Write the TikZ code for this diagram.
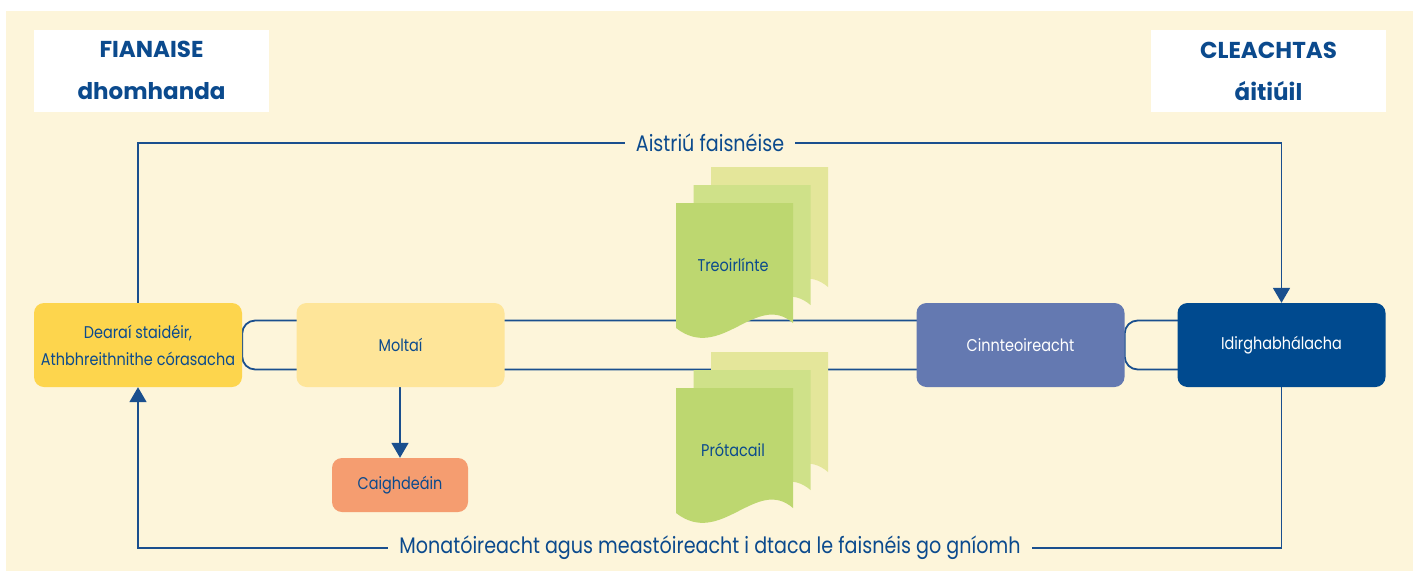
\documentclass[tikz,border=0pt]{standalone}
\usepackage{fontspec}
\setmainfont{Poppins}[FakeStretch=0.85]
\newfontfamily\hdrfont{Poppins}
\usetikzlibrary{arrows.meta,calc}
\definecolor{bg}{HTML}{FDF5DA}
\definecolor{txt}{HTML}{0B4A8D}
\definecolor{lnk}{HTML}{1A4F8E}
\definecolor{cDearai}{HTML}{FDD54D}
\definecolor{cMoltai}{HTML}{FEE599}
\definecolor{cCaig}{HTML}{F59D70}
\definecolor{cCinn}{HTML}{6479B1}
\definecolor{cIdir}{HTML}{004A8F}
\definecolor{docA}{HTML}{BDD770}
\definecolor{docB}{HTML}{CFE189}
\definecolor{docC}{HTML}{E4E69A}
\pgfdeclarelayer{back}
\pgfdeclarelayer{lines}
\pgfdeclarelayer{docs}
\pgfsetlayers{back,lines,docs,main}
\newcommand\docpage[3]{\fill[#3] ({#1},{#2}) -- ({#1+117},{#2}) -- ({#1+117},{#2+120}) .. controls ({#1+80},{#2+88}) and ({#1+45},{#2+160}) .. ({#1},{#2+125}) -- cycle;}
\newcommand\docstack[2]{\docpage{#1+35}{#2-36}{docC}\docpage{#1+17.5}{#2-18}{docB}\docpage{#1}{#2}{docA}}
\tikzset{
  box/.style={rounded corners=10pt, minimum width=208pt, minimum height=84pt, inner sep=0pt, align=center, font=\fontsize{17}{27}\selectfont, text=txt},
  hdr/.style={fill=white, minimum width=235pt, minimum height=82pt, inner sep=0pt, align=center, font=\hdrfont\fontsize{23}{42}\selectfont\bfseries, text=txt},
  link/.style={draw=lnk, line width=1.8pt},
  tip/.style={-{Triangle[width=17pt,length=15pt]}},
  lbl/.style={fill=bg, text=txt, inner xsep=11pt, inner ysep=2pt, font=\fontsize{22.5}{26}\selectfont},
  doclbl/.style={text=txt, font=\fontsize{17}{20}\selectfont}
}
\begin{document}
\begin{tikzpicture}[x=1pt,y=-1pt]
\useasboundingbox (0,0) rectangle (1417,571);
\begin{pgfonlayer}{back}
  \fill[white] (0,0) rectangle (1417,571);
  \fill[bg] (6,11) rectangle (1413,571);
\end{pgfonlayer}

% header boxes
\node[hdr] (fian) at (151.5,70.5) {FIANAISE\\dhomhanda};
\node[hdr] (clea) at (1268.5,71) {CLEACHTAS\\áitiúil};

% main boxes
\node[box, fill=cDearai] (dearai) at (138,345) {Dearaí staidéir,\\Athbhreithnithe córasacha};
\node[box, fill=cMoltai] (moltai) at (400.5,345) {Moltaí};
\node[box, fill=cCinn, text=white] (cinn) at (1020.5,345) {Cinnteoireacht};
\node[box, fill=cIdir, text=white] (idir) at (1281.5,345) {Idirghabhálacha};
\node[box, fill=cCaig, minimum width=136pt, minimum height=54pt] (caig) at (400,485) {Caighdeáin};

% coordinates for the outer loop
\coordinate (top) at (710,143);
\coordinate (bot) at (710,548);

\begin{pgfonlayer}{lines}
  \draw[link, rounded corners=13pt] ($(cinn.center)+(0,-24.5)$) -| (dearai.east) |- ($(cinn.center)+(0,24.5)$);
  \draw[link, rounded corners=13pt] ($(idir.center)+(0,-24.5)$) -| (cinn.east) |- ($(idir.center)+(0,24.5)$);
  \draw[link, tip] (dearai.north) -- (dearai.north |- top) -| (idir.north);
  \draw[link, tip] (idir.south) -- (idir.south |- bot) -| (dearai.south);
  \draw[link, tip] (moltai.south -| caig.north) -- (caig.north);
\end{pgfonlayer}

\begin{pgfonlayer}{docs}
  \docstack{676}{203}
  \docstack{676}{388}
\end{pgfonlayer}
\node[doclbl] (treo) at (733,265) {Treoirlínte};
\node[doclbl] (prot) at (733,450) {Prótacail};

\node[lbl] (aist) at (top) {Aistriú faisnéise};
\node[lbl] (mona) at (bot) {Monatóireacht agus meastóireacht i dtaca le faisnéis go gníomh};
\end{tikzpicture}
\end{document}
